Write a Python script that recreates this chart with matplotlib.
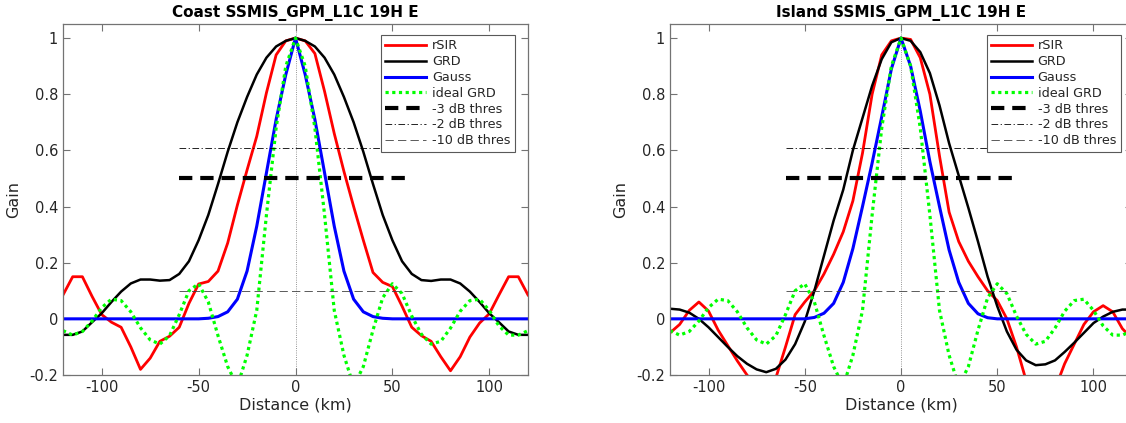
import matplotlib
matplotlib.use('Agg')
import matplotlib.pyplot as plt

plt.rcParams['font.family'] = 'DejaVu Sans'

# distance grid (km) shared by all curves
dist = list(range(-120, 121, 5))

coast_rsir = [0.085, 0.15, 0.15, 0.08, 0.015, -0.012, -0.03, -0.10, -0.18, -0.14, -0.08, -0.062,
              -0.03, 0.055, 0.124, 0.133, 0.17, 0.27, 0.405, 0.53, 0.65, 0.805, 0.94, 0.99,
              1.0,
              0.99, 0.945, 0.81, 0.66, 0.525, 0.40, 0.28, 0.165, 0.13, 0.115, 0.045, -0.03,
              -0.06, -0.08, -0.135, -0.185, -0.135, -0.065, -0.015, 0.018, 0.085, 0.15, 0.15, 0.085]
coast_grd = [-0.057, -0.057, -0.045, -0.012, 0.02, 0.06, 0.097, 0.126, 0.14, 0.14, 0.136, 0.138,
             0.16, 0.205, 0.28, 0.37, 0.48, 0.595, 0.70, 0.79, 0.87, 0.93, 0.97, 0.99,
             1.0,
             0.99, 0.97, 0.93, 0.87, 0.79, 0.70, 0.595, 0.48, 0.37, 0.28, 0.205, 0.16,
             0.138, 0.135, 0.14, 0.14, 0.126, 0.097, 0.06, 0.02, -0.012, -0.045, -0.057, -0.057]
coast_gauss = [0, 0, 0, 0, 0, 0, 0, 0, 0, 0, 0, 0,
               0, 0, 0, 0.002, 0.008, 0.025, 0.07, 0.17, 0.33, 0.52, 0.71, 0.87,
               1.0,
               0.87, 0.71, 0.52, 0.33, 0.17, 0.07, 0.025, 0.008, 0.002, 0, 0, 0,
               0, 0, 0, 0, 0, 0, 0, 0, 0, 0, 0, 0]

island_rsir = [-0.05, -0.02, 0.03, 0.06, 0.028, -0.04, -0.095, -0.15, -0.2, -0.24, -0.25, -0.21,
               -0.1, 0.015, 0.06, 0.10, 0.16, 0.23, 0.31, 0.42, 0.59, 0.80, 0.94, 0.99,
               1.0,
               0.995, 0.93, 0.80, 0.58, 0.38, 0.275, 0.205, 0.15, 0.10, 0.065, 0.0, -0.1,
               -0.22, -0.28, -0.3, -0.25, -0.16, -0.09, -0.02, 0.025, 0.047, 0.025, -0.035, -0.07]
island_grd = [0.036, 0.033, 0.022, 0.0, -0.03, -0.065, -0.1, -0.133, -0.16, -0.18, -0.19, -0.178,
              -0.145, -0.09, -0.01, 0.10, 0.225, 0.35, 0.46, 0.60, 0.715, 0.83, 0.925, 0.985,
              1.0,
              0.99, 0.95, 0.875, 0.76, 0.625, 0.51, 0.395, 0.275, 0.15, 0.045, -0.045, -0.11,
              -0.148, -0.165, -0.162, -0.148, -0.118, -0.085, -0.05, -0.015, 0.008, 0.025, 0.033, 0.033]
island_gauss = [0, 0, 0, 0, 0, 0, 0, 0, 0, 0, 0, 0,
                0, 0, 0, 0.005, 0.02, 0.055, 0.13, 0.25, 0.40, 0.555, 0.72, 0.89,
                1.0,
                0.90, 0.74, 0.56, 0.40, 0.245, 0.13, 0.055, 0.018, 0.004, 0, 0, 0,
                0, 0, 0, 0, 0, 0, 0, 0, 0, 0, 0, 0]

ideal_grd = [-0.042, -0.058, -0.045, -0.008, 0.04, 0.07, 0.065, 0.025, -0.032, -0.075, -0.09, -0.06,
             0.015, 0.10, 0.125, 0.06, -0.06, -0.17, -0.24, -0.13, 0.03, 0.37, 0.68, 0.90,
             1.0,
             0.90, 0.68, 0.37, 0.03, -0.13, -0.24, -0.17, -0.04, 0.075, 0.125, 0.09, 0.01,
             -0.055, -0.09, -0.08, -0.033, 0.027, 0.065, 0.07, 0.03, -0.025, -0.058, -0.058, -0.042]

thres_x = [-60, 60]
thres_3db = 0.5
thres_2db = 0.61
thres_10db = 0.1

xticks = [-100, -50, 0, 50, 100]
xticklabels = ['-100', '-50', '0', '50', '100']
yticks = [-0.2, 0, 0.2, 0.4, 0.6, 0.8, 1]
yticklabels = ['-0.2', '0', '0.2', '0.4', '0.6', '0.8', '1']

W, H = 1126, 423
fig = plt.figure(figsize=(W / 100, H / 100), dpi=100)
ax1 = fig.add_axes([63 / W, 48 / H, 465 / W, 351 / H])
ax2 = fig.add_axes([670 / W, 48 / H, 462 / W, 351 / H])

txt = '#262626'


def draw_panel(ax, title, rsir, grd, gauss, leg_x):
	ax.axvline(0, color='0.45', linestyle=':', linewidth=0.6, zorder=1)
	ax.plot(dist, rsir, color='#ff0000', linewidth=2.0, label='rSIR')
	ax.plot(dist, grd, color='black', linewidth=1.8, label='GRD')
	ax.plot(dist, gauss, color='#0000ff', linewidth=2.2, label='Gauss')
	ax.plot(dist, ideal_grd, color='#00ff00', linewidth=2.3, dashes=(1, 1.1), label='ideal GRD')
	ax.plot(thres_x, [thres_3db, thres_3db], color='black', linewidth=3.0, dashes=(3.2, 1.9),
	        label='-3 dB thres')
	ax.plot(thres_x, [thres_2db, thres_2db], color='black', linewidth=0.6, dashes=(8, 3, 1.5, 3),
	        label='-2 dB thres')
	ax.plot(thres_x, [thres_10db, thres_10db], color='0.25', linewidth=0.6, dashes=(10, 5),
	        label='-10 dB thres')

	ax.set_xlim(-120, 120)
	ax.set_ylim(-0.2, 1.05)
	ax.set_xticks(xticks)
	ax.set_xticklabels(xticklabels)
	ax.set_yticks(yticks)
	ax.set_yticklabels(yticklabels)
	ax.tick_params(direction='in', length=5, width=0.8, top=True, right=True,
	               labelsize=10.5, colors=txt, color='0.45')
	for s in ax.spines.values():
		s.set_color('0.45')
		s.set_linewidth(0.9)
	ax.set_title(title, fontsize=11, fontweight='bold', color='black', pad=5)
	ax.set_xlabel('Distance (km)', fontsize=11.5, color=txt, labelpad=2)
	ax.set_ylabel('Gain', fontsize=11.5, color=txt, labelpad=6)

	leg = ax.legend(loc='upper right', bbox_to_anchor=(leg_x, 0.969), borderaxespad=0,
	                fontsize=9.2, handlelength=3.2, handletextpad=0.45, labelspacing=0.22,
	                borderpad=0.35, fancybox=False, framealpha=1, edgecolor='0.35')
	leg.get_frame().set_linewidth(0.8)
	for t in leg.get_texts():
		t.set_color(txt)


draw_panel(ax1, 'Coast SSMIS_GPM_L1C 19H E', coast_rsir, coast_grd, coast_gauss, 0.972)
draw_panel(ax2, 'Island SSMIS_GPM_L1C 19H E', island_rsir, island_grd, island_gauss, 0.9755)

fig.savefig('out.png', dpi=100)
